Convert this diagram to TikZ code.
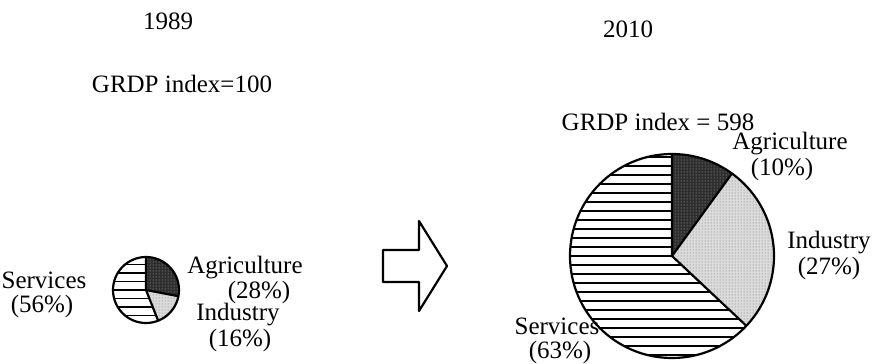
\documentclass[tikz,border=0pt]{standalone}
\usepackage{fontspec}
\setmainfont{Liberation Serif}
\usetikzlibrary{patterns}
\begin{document}
\begin{tikzpicture}[x=1pt,y=1pt,
  lbl/.style={font=\fontsize{25}{28}\selectfont, inner sep=0pt},
  rim/.style={line width=2.2pt, line join=round},
  agri/.style={fill=black!82, postaction={pattern=dots, pattern color=white!70!black}},
  indu/.style={fill=black!14, postaction={pattern=dots, pattern color=black!55}},
  hatchline/.style={line width=1.5pt}]
\useasboundingbox (0,0) rectangle (878,-364);

% ---- 1989 ----
\node[lbl] (y89) at (168,-21) {1989};
\node[lbl] (g89) at (182,-84) {GRDP index=100};

\coordinate (s) at (146,-290);
\def\sr{33}
\fill[agri] (s) -- ++(90:\sr) arc[start angle=90,end angle=-10.8,radius=\sr] -- cycle;
\fill[indu] (s) -- ++(-10.8:\sr) arc[start angle=-10.8,end angle=-68.4,radius=\sr] -- cycle;
\begin{scope}
  \clip (s) -- ++(-68.4:\sr) arc[start angle=-68.4,end angle=-270,radius=\sr] -- cycle;
  \foreach \k in {-4,...,4}
    \draw[hatchline] ([shift={(-40,\k*8.5)}]s) -- ++(80,0);
\end{scope}
\draw[rim] (s) circle[radius=\sr];
\draw[rim] ([shift={(90:\sr)}]s) -- (s) -- ([shift={(-10.8:\sr)}]s);
\draw[rim] (s) -- ([shift={(-68.4:\sr)}]s);

\node[lbl] (sv89) at (44,-280) {Services};
\node[lbl] (sv89p) at (42,-306) {(56\%)};
\node[lbl] (ag89) at (245,-268) {Agriculture};
\node[lbl] (ag89p) at (259,-292) {(28\%)};
\node[lbl] (in89) at (238,-315) {Industry};
\node[lbl] (in89p) at (240,-340) {(16\%)};

% ---- arrow ----
\draw[rim] (383,-250) -- (419,-250) -- (419,-221) -- (447,-266)
  -- (419,-311) -- (419,-282) -- (383,-282) -- cycle;

% ---- 2010 ----
\node[lbl] (y10) at (628,-29) {2010};
\node[lbl] (g10) at (658,-122) {GRDP index = 598};

\coordinate (b) at (672,-256);
\def\br{102}
\fill[agri] (b) -- ++(90:\br) arc[start angle=90,end angle=54,radius=\br] -- cycle;
\fill[indu] (b) -- ++(54:\br) arc[start angle=54,end angle=-43.2,radius=\br] -- cycle;
\begin{scope}
  \clip (b) -- ++(-43.2:\br) arc[start angle=-43.2,end angle=-270,radius=\br] -- cycle;
  \foreach \k in {-12,...,12}
    \draw[hatchline, line width=1.3pt] ([shift={(-110,\k*9)}]b) -- ++(220,0);
\end{scope}
\draw[rim] (b) circle[radius=\br];
\draw[rim] ([shift={(90:\br)}]b) -- (b) -- ([shift={(54:\br)}]b);
\draw[rim] (b) -- ([shift={(-43.2:\br)}]b);

\node[lbl] (ag10) at (790,-144) {Agriculture};
\node[lbl] (ag10p) at (782,-169) {(10\%)};
\node[lbl] (in10) at (829,-243) {Industry};
\node[lbl] (in10p) at (829,-268) {(27\%)};
\node[lbl] (sv10) at (557,-326) {Services};
\node[lbl] (sv10p) at (560,-352) {(63\%)};
\end{tikzpicture}
\end{document}
